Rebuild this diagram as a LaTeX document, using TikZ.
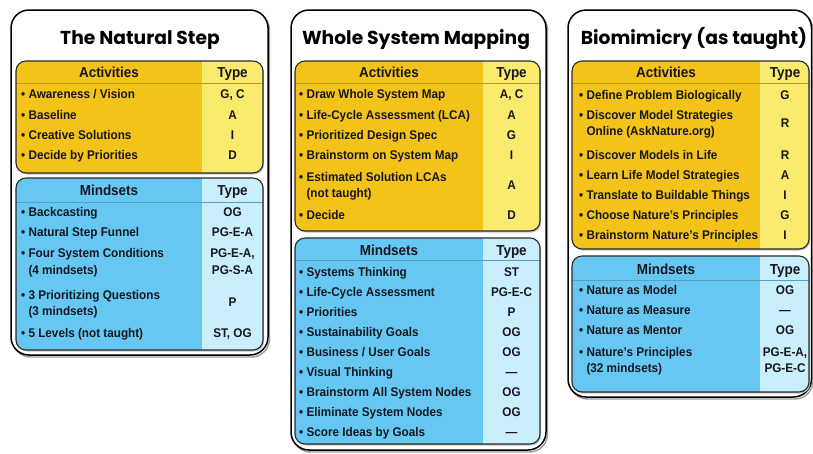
\documentclass[tikz,border=0pt]{standalone}
\usepackage{fontspec}
\setmainfont{Liberation Sans}
\newfontfamily\bodyf[FakeStretch=0.93]{Liberation Sans}
\newfontfamily\titlef{Poppins}
\definecolor{yel}{HTML}{F4C31A}
\definecolor{yellt}{HTML}{FAEA6E}
\definecolor{blu}{HTML}{66C8F2}
\definecolor{blult}{HTML}{C8EFFB}
\definecolor{txt}{HTML}{16161F}
\definecolor{edgec}{HTML}{2A2A2A}
\definecolor{shadowc}{HTML}{9A9A9A}
\newcommand\tablebox[8]{%
  \fill[shadowc!60, rounded corners=10] (#1+1.2,#2+1.5) rectangle (#3+1.2,#4+1.5);
  \begin{scope}
    \clip[rounded corners=10] (#1,#2) rectangle (#3,#4);
    \fill[#6] (#1,#2) rectangle (#5,#4);
    \fill[#7] (#5,#2) rectangle (#3,#4);
    \draw[#6!80!black, line width=0.5] (#1,#2+#8) -- (#3,#2+#8);
  \end{scope}
  \draw[edgec, line width=1.1, rounded corners=10] (#1,#2) rectangle (#3,#4);
}
\newcommand\outerbox[4]{%
  \draw[shadowc, line width=1.4, rounded corners=18] (#1+1.5,#2+2) rectangle (#3+1.5,#4+2);
  \draw[black, line width=1.5, fill=white, rounded corners=18] (#1,#2) rectangle (#3,#4);
}
\newcommand\bl{•\ }
\newcommand\ind{\phantom{•\ }}
\tikzset{
  item/.style={anchor=base west, yshift=-4.5pt, inner sep=0pt, text=txt, font=\bodyf\bfseries\fontsize{12.6}{15}\selectfont},
  typ/.style={anchor=base, yshift=-4.5pt, inner sep=0pt, text=txt, font=\bodyf\bfseries\fontsize{12.6}{15}\selectfont},
  hdr/.style={anchor=base, yshift=-5.2pt, inner sep=0pt, text=txt, font=\bodyf\bfseries\fontsize{14.5}{17}\selectfont},
  ttl/.style={anchor=base, yshift=-7pt, inner sep=0pt, text=black, font=\titlef\bfseries\fontsize{18.7}{22}\selectfont},
}
\begin{document}
\begin{tikzpicture}[x=1pt,y=-1pt]
\useasboundingbox (0,0) rectangle (813,453);
\fill[white] (0,0) rectangle (813,453);
% outer panels
\outerbox{11}{10}{268}{355}
\outerbox{291}{10}{546}{450}
\outerbox{568}{10}{811.5}{397}
% inner tables
\tablebox{16}{61}{263}{173}{202}{yel}{yellt}{22}
\tablebox{16}{178}{263}{350}{202}{blu}{blult}{24}
\tablebox{295}{61}{540}{231}{483}{yel}{yellt}{22}
\tablebox{295}{238}{540}{444}{483}{blu}{blult}{22}
\tablebox{572}{61}{809}{249}{760}{yel}{yellt}{22}
\tablebox{572}{256}{809}{392}{760}{blu}{blult}{24}
% titles
\node[ttl] (t1) at (140,37) {The Natural Step};
\node[ttl] (t2) at (416,37) {Whole System Mapping};
\node[ttl] (t3) at (694,37) {Biomimicry (as taught)};
% ---------- panel 1 ----------
\node[hdr] (p1ah) at (109,72) {Activities};
\node[hdr] (p1at) at (232.5,72) {Type};
\node[item] (p1a1) at (21,94) {\bl Awareness / Vision};
\node[typ] (p1a1t) at (232.5,94) {G, C};
\node[item] (p1a2) at (21,115) {\bl Baseline};
\node[typ] (p1a2t) at (232.5,115) {A};
\node[item] (p1a3) at (21,135) {\bl Creative Solutions};
\node[typ] (p1a3t) at (232.5,135) {I};
\node[item] (p1a4) at (21,155) {\bl Decide by Priorities};
\node[typ] (p1a4t) at (232.5,155) {D};
\node[hdr] (p1mh) at (109,190) {Mindsets};
\node[hdr] (p1mt) at (232.5,190) {Type};
\node[item] (p1m1) at (21,212) {\bl Backcasting};
\node[typ] (p1m1t) at (232.5,212) {OG};
\node[item] (p1m2) at (21,232) {\bl Natural Step Funnel};
\node[typ] (p1m2t) at (232.5,232) {PG-E-A};
\node[item] (p1m3) at (21,253) {\bl Four System Conditions};
\node[item] (p1m3b) at (21,270) {\ind(4 mindsets)};
\node[typ] (p1m3t) at (232.5,253) {PG-E-A,};
\node[typ] (p1m3u) at (232.5,270) {PG-S-A};
\node[item] (p1m4) at (21,295) {\bl 3 Prioritizing Questions};
\node[item] (p1m4b) at (21,311) {\ind(3 mindsets)};
\node[typ] (p1m4t) at (232.5,302) {P};
\node[item] (p1m5) at (21,333) {\bl 5 Levels (not taught)};
\node[typ] (p1m5t) at (232.5,333) {ST, OG};
% ---------- panel 2 ----------
\node[hdr] (p2ah) at (389,72) {Activities};
\node[hdr] (p2at) at (511.5,72) {Type};
\node[item] (p2a1) at (299,94) {\bl Draw Whole System Map};
\node[typ] (p2a1t) at (511.5,94) {A, C};
\node[item] (p2a2) at (299,115) {\bl Life-Cycle Assessment (LCA)};
\node[typ] (p2a2t) at (511.5,115) {A};
\node[item] (p2a3) at (299,135) {\bl Prioritized Design Spec};
\node[typ] (p2a3t) at (511.5,135) {G};
\node[item] (p2a4) at (299,155) {\bl Brainstorm on System Map};
\node[typ] (p2a4t) at (511.5,155) {I};
\node[item] (p2a5) at (299,177) {\bl Estimated Solution LCAs};
\node[item] (p2a5b) at (299,193) {\ind(not taught)};
\node[typ] (p2a5t) at (511.5,185) {A};
\node[item] (p2a6) at (299,215) {\bl Decide};
\node[typ] (p2a6t) at (511.5,215) {D};
\node[hdr] (p2mh) at (389,250) {Mindsets};
\node[hdr] (p2mt) at (511.5,250) {Type};
\node[item] (p2m1) at (299,272) {\bl Systems Thinking};
\node[typ] (p2m1t) at (511.5,272) {ST};
\node[item] (p2m2) at (299,292) {\bl Life-Cycle Assessment};
\node[typ] (p2m2t) at (511.5,292) {PG-E-C};
\node[item] (p2m3) at (299,312) {\bl Priorities};
\node[typ] (p2m3t) at (511.5,312) {P};
\node[item] (p2m4) at (299,332) {\bl Sustainability Goals};
\node[typ] (p2m4t) at (511.5,332) {OG};
\node[item] (p2m5) at (299,352) {\bl Business / User Goals};
\node[typ] (p2m5t) at (511.5,352) {OG};
\node[item] (p2m6) at (299,372) {\bl Visual Thinking};
\node[typ] (p2m6t) at (511.5,372) {—};
\node[item] (p2m7) at (299,392) {\bl Brainstorm All System Nodes};
\node[typ] (p2m7t) at (511.5,392) {OG};
\node[item] (p2m8) at (299,412) {\bl Eliminate System Nodes};
\node[typ] (p2m8t) at (511.5,412) {OG};
\node[item] (p2m9) at (299,432) {\bl Score Ideas by Goals};
\node[typ] (p2m9t) at (511.5,432) {—};
% ---------- panel 3 ----------
\node[hdr] (p3ah) at (666,72) {Activities};
\node[hdr] (p3at) at (785,72) {Type};
\node[item] (p3a1) at (579,95) {\bl Define Problem Biologically};
\node[typ] (p3a1t) at (785,95) {G};
\node[item] (p3a2) at (579,115) {\bl Discover Model Strategies};
\node[item] (p3a2b) at (579,131) {\ind Online (AskNature.org)};
\node[typ] (p3a2t) at (785,123) {R};
\node[item] (p3a3) at (579,155) {\bl Discover Models in Life};
\node[typ] (p3a3t) at (785,155) {R};
\node[item] (p3a4) at (579,175) {\bl Learn Life Model Strategies};
\node[typ] (p3a4t) at (785,175) {A};
\node[item] (p3a5) at (579,195) {\bl Translate to Buildable Things};
\node[typ] (p3a5t) at (785,195) {I};
\node[item] (p3a6) at (579,215) {\bl Choose Nature’s Principles};
\node[typ] (p3a6t) at (785,215) {G};
\node[item] (p3a7) at (579,235) {\bl Brainstorm Nature’s Principles};
\node[typ] (p3a7t) at (785,235) {I};
\node[hdr] (p3mh) at (666,269) {Mindsets};
\node[hdr] (p3mt) at (785,269) {Type};
\node[item] (p3m1) at (579,290) {\bl Nature as Model};
\node[typ] (p3m1t) at (785,290) {OG};
\node[item] (p3m2) at (579,310) {\bl Nature as Measure};
\node[typ] (p3m2t) at (785,310) {—};
\node[item] (p3m3) at (579,330) {\bl Nature as Mentor};
\node[typ] (p3m3t) at (785,330) {OG};
\node[item] (p3m4) at (579,352) {\bl Nature’s Principles};
\node[item] (p3m4b) at (579,368) {\ind(32 mindsets)};
\node[typ] (p3m4t) at (785,352) {PG-E-A,};
\node[typ] (p3m4u) at (785,368) {PG-E-C};
\end{tikzpicture}
\end{document}
